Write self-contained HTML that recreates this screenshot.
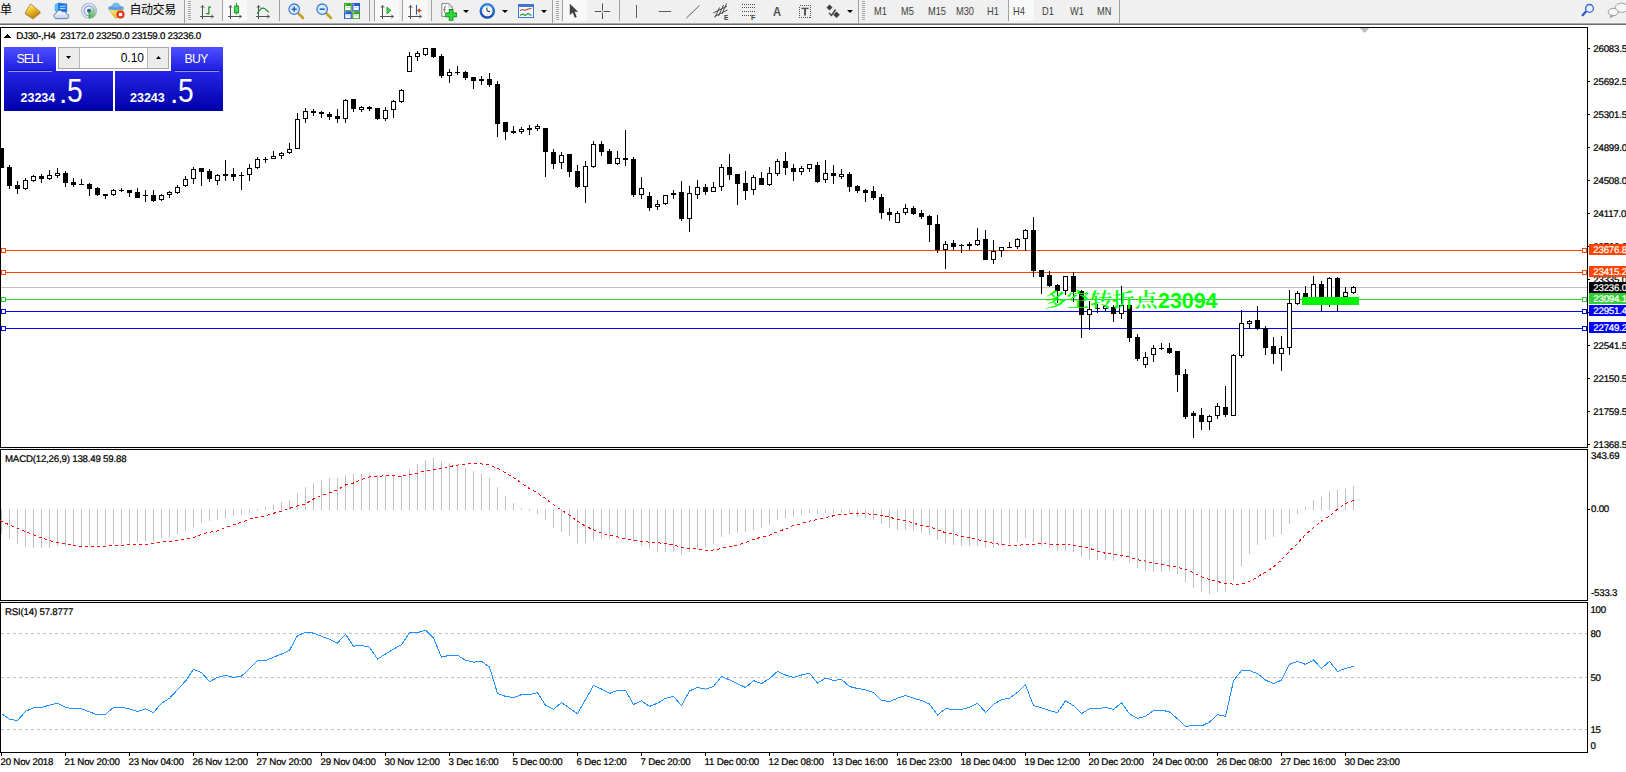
<!DOCTYPE html>
<html><head><meta charset="utf-8"><title>DJ30 H4</title>
<style>
html,body{margin:0;padding:0;background:#fff;}
body{width:1626px;height:772px;overflow:hidden;position:relative;font-family:"Liberation Sans","Noto Sans CJK SC",sans-serif;}
#root{position:absolute;left:0;top:0;width:1626px;height:772px;overflow:hidden;}
#tb{position:absolute;left:0;top:0;width:1626px;height:25px;background:#f0f0f0;}
#tb .l1{position:absolute;left:0;top:22px;width:1626px;height:1px;background:#f2f2f2;}
#tb .l2{position:absolute;left:0;top:23px;width:1626px;height:1px;background:#a8a8a8;}
#tb .l3{position:absolute;left:0;top:24px;width:1626px;height:1px;background:#6c6c6c;}
#tb .sep{position:absolute;top:0;width:1px;height:21px;background:#a0a0a0;}
#tb .grip{position:absolute;top:1px;width:3px;height:19px;background:repeating-linear-gradient(to bottom,#a8a8a8 0,#a8a8a8 1px,#f0f0f0 1px,#f0f0f0 2px);}
#tb .act{position:absolute;top:0;height:21px;background:#f8f8f8;}
#tb .tf{position:absolute;top:5.6px;font-size:10.3px;color:#404040;line-height:12px;white-space:nowrap;transform:scaleX(0.9);transform-origin:0 0;}
#tb .cn{position:absolute;font-size:12px;color:#000;line-height:14px;white-space:nowrap;}
#tb svg{position:absolute;overflow:visible;}
#tp{position:absolute;left:4px;top:47px;width:219px;height:64px;}
#tp .b{position:absolute;background:linear-gradient(to bottom,#5050ff 0%,#1c1ce0 100%);color:#fff;}
#tp .p{position:absolute;background:linear-gradient(to bottom,#2424e6 0%,#0000a8 100%);color:#fff;}
#tp .bt{position:absolute;top:5px;font-size:12.2px;line-height:14px;white-space:nowrap;}
#tp .ul{position:absolute;top:23.3px;height:1.5px;background:linear-gradient(to bottom,#1414a8 0,#1414a8 45%,#9090ff 55%,#9090ff 100%);}
#tp .s{position:absolute;top:44.5px;font-size:12.5px;font-weight:bold;line-height:12px;top:20.5px;}
#tp .d{position:absolute;font-size:30px;line-height:30px;top:6.5px;}
#tp .g{position:absolute;font-size:33.5px;line-height:32px;top:3.6px;transform:scaleX(0.84);transform-origin:0 0;}
#tp .lot{position:absolute;left:54px;top:0px;width:110.5px;height:21.5px;background:#fff;border:1px solid #a8a8a8;box-sizing:border-box;box-shadow:0 0 0 1.5px #fff;}
#tp .sb{position:absolute;top:0;width:19.5px;height:19.5px;background:#ececec;}
#tp .sb:first-child{border-right:1px solid #b8b8b8;}
#tp .sb:last-child{border-left:1px solid #b8b8b8;}
#tp .val{position:absolute;right:23.5px;top:2.7px;font-size:12px;line-height:14px;color:#000;}

</style></head><body><div id="root">
<svg width="1626" height="772" viewBox="0 0 1626 772" shape-rendering="crispEdges" style="position:absolute;left:0;top:0;font-family:'Liberation Sans',sans-serif" text-rendering="geometricPrecision"><rect x="0" y="25" width="1626" height="747" fill="#fff"/>
<rect x="0" y="27" width="1588" height="1" fill="#000"/>
<rect x="0" y="27" width="1" height="726" fill="#000"/>
<rect x="1587" y="27" width="1" height="726" fill="#000"/>
<rect x="0" y="447" width="1588" height="1" fill="#000"/>
<rect x="0" y="448" width="1588" height="1" fill="#f0f0f0"/>
<rect x="0" y="449" width="1588" height="1" fill="#000"/>
<rect x="0" y="600" width="1588" height="1" fill="#000"/>
<rect x="0" y="601" width="1588" height="1" fill="#f0f0f0"/>
<rect x="0" y="602" width="1588" height="1" fill="#000"/>
<rect x="0" y="752" width="1588" height="1" fill="#000"/>
<polygon points="1359,28 1369,28 1364,33" fill="#c0c0c0"/>
<rect x="1" y="287" width="1586" height="1" fill="#c0c0c0"/>
<rect x="1" y="250" width="1586" height="1" fill="#ff4500"/>
<rect x="1" y="272" width="1586" height="1" fill="#ff4500"/>
<rect x="1" y="299" width="1586" height="1" fill="#32cd32"/>
<rect x="1" y="311" width="1586" height="1" fill="#0000ff"/>
<rect x="1" y="328" width="1586" height="1" fill="#0000ff"/>
<g><rect x="1" y="148" width="1" height="20" fill="#000"/><rect x="-1" y="148" width="5" height="20" fill="#000"/><rect x="9" y="165" width="1" height="24" fill="#000"/><rect x="7" y="167" width="5" height="19" fill="#000"/><rect x="17" y="181" width="1" height="13" fill="#000"/><rect x="15" y="185" width="5" height="4" fill="#000"/><rect x="25" y="178" width="1" height="12" fill="#000"/><rect x="23" y="180" width="5" height="9" fill="#000"/><rect x="24" y="181" width="3" height="7" fill="#fff"/><rect x="33" y="175" width="1" height="7" fill="#000"/><rect x="31" y="176" width="5" height="5" fill="#000"/><rect x="32" y="177" width="3" height="3" fill="#fff"/><rect x="41" y="174" width="1" height="9" fill="#000"/><rect x="39" y="176" width="5" height="3" fill="#000"/><rect x="49" y="170" width="1" height="10" fill="#000"/><rect x="47" y="175" width="5" height="4" fill="#000"/><rect x="48" y="176" width="3" height="2" fill="#fff"/><rect x="57" y="168" width="1" height="10" fill="#000"/><rect x="55" y="173" width="5" height="3" fill="#000"/><rect x="56" y="174" width="3" height="1" fill="#fff"/><rect x="65" y="171" width="1" height="16" fill="#000"/><rect x="63" y="173" width="5" height="10" fill="#000"/><rect x="73" y="178" width="1" height="9" fill="#000"/><rect x="71" y="182" width="5" height="3" fill="#000"/><rect x="81" y="179" width="1" height="5" fill="#000"/><rect x="79" y="184" width="5" height="1" fill="#000"/><rect x="89" y="183" width="1" height="13" fill="#000"/><rect x="87" y="184" width="5" height="5" fill="#000"/><rect x="97" y="187" width="1" height="9" fill="#000"/><rect x="95" y="188" width="5" height="7" fill="#000"/><rect x="105" y="194" width="1" height="5" fill="#000"/><rect x="103" y="194" width="5" height="2" fill="#000"/><rect x="113" y="189" width="1" height="7" fill="#000"/><rect x="111" y="190" width="5" height="5" fill="#000"/><rect x="112" y="191" width="3" height="3" fill="#fff"/><rect x="121" y="188" width="1" height="4" fill="#000"/><rect x="119" y="190" width="5" height="1" fill="#000"/><rect x="129" y="190" width="1" height="7" fill="#000"/><rect x="127" y="190" width="5" height="3" fill="#000"/><rect x="137" y="188" width="1" height="10" fill="#000"/><rect x="135" y="192" width="5" height="6" fill="#000"/><rect x="145" y="190" width="1" height="12" fill="#000"/><rect x="143" y="195" width="5" height="1" fill="#000"/><rect x="153" y="190" width="1" height="12" fill="#000"/><rect x="151" y="195" width="5" height="6" fill="#000"/><rect x="161" y="194" width="1" height="7" fill="#000"/><rect x="159" y="195" width="5" height="5" fill="#000"/><rect x="160" y="196" width="3" height="3" fill="#fff"/><rect x="169" y="191" width="1" height="7" fill="#000"/><rect x="167" y="192" width="5" height="3" fill="#000"/><rect x="168" y="193" width="3" height="1" fill="#fff"/><rect x="177" y="185" width="1" height="9" fill="#000"/><rect x="175" y="187" width="5" height="6" fill="#000"/><rect x="176" y="188" width="3" height="4" fill="#fff"/><rect x="185" y="176" width="1" height="11" fill="#000"/><rect x="183" y="179" width="5" height="7" fill="#000"/><rect x="184" y="180" width="3" height="5" fill="#fff"/><rect x="193" y="167" width="1" height="17" fill="#000"/><rect x="191" y="169" width="5" height="10" fill="#000"/><rect x="192" y="170" width="3" height="8" fill="#fff"/><rect x="201" y="168" width="1" height="18" fill="#000"/><rect x="199" y="168" width="5" height="4" fill="#000"/><rect x="209" y="169" width="1" height="13" fill="#000"/><rect x="207" y="171" width="5" height="8" fill="#000"/><rect x="217" y="174" width="1" height="11" fill="#000"/><rect x="215" y="175" width="5" height="6" fill="#000"/><rect x="216" y="176" width="3" height="4" fill="#fff"/><rect x="225" y="160" width="1" height="21" fill="#000"/><rect x="223" y="174" width="5" height="2" fill="#000"/><rect x="233" y="168" width="1" height="13" fill="#000"/><rect x="231" y="174" width="5" height="3" fill="#000"/><rect x="241" y="172" width="1" height="18" fill="#000"/><rect x="239" y="175" width="5" height="1" fill="#000"/><rect x="249" y="164" width="1" height="17" fill="#000"/><rect x="247" y="168" width="5" height="7" fill="#000"/><rect x="248" y="169" width="3" height="5" fill="#fff"/><rect x="257" y="157" width="1" height="12" fill="#000"/><rect x="255" y="159" width="5" height="9" fill="#000"/><rect x="256" y="160" width="3" height="7" fill="#fff"/><rect x="265" y="157" width="1" height="6" fill="#000"/><rect x="263" y="159" width="5" height="1" fill="#000"/><rect x="273" y="151" width="1" height="8" fill="#000"/><rect x="271" y="156" width="5" height="3" fill="#000"/><rect x="272" y="157" width="3" height="1" fill="#fff"/><rect x="281" y="152" width="1" height="7" fill="#000"/><rect x="279" y="153" width="5" height="3" fill="#000"/><rect x="280" y="154" width="3" height="1" fill="#fff"/><rect x="289" y="143" width="1" height="11" fill="#000"/><rect x="287" y="149" width="5" height="4" fill="#000"/><rect x="288" y="150" width="3" height="2" fill="#fff"/><rect x="297" y="113" width="1" height="36" fill="#000"/><rect x="295" y="119" width="5" height="30" fill="#000"/><rect x="296" y="120" width="3" height="28" fill="#fff"/><rect x="305" y="108" width="1" height="15" fill="#000"/><rect x="303" y="111" width="5" height="8" fill="#000"/><rect x="304" y="112" width="3" height="6" fill="#fff"/><rect x="313" y="109" width="1" height="7" fill="#000"/><rect x="311" y="111" width="5" height="2" fill="#000"/><rect x="321" y="111" width="1" height="7" fill="#000"/><rect x="319" y="112" width="5" height="2" fill="#000"/><rect x="329" y="112" width="1" height="8" fill="#000"/><rect x="327" y="114" width="5" height="3" fill="#000"/><rect x="337" y="109" width="1" height="14" fill="#000"/><rect x="335" y="116" width="5" height="3" fill="#000"/><rect x="345" y="99" width="1" height="24" fill="#000"/><rect x="343" y="100" width="5" height="19" fill="#000"/><rect x="344" y="101" width="3" height="17" fill="#fff"/><rect x="353" y="99" width="1" height="13" fill="#000"/><rect x="351" y="99" width="5" height="10" fill="#000"/><rect x="361" y="106" width="1" height="6" fill="#000"/><rect x="359" y="107" width="5" height="3" fill="#000"/><rect x="360" y="108" width="3" height="1" fill="#fff"/><rect x="369" y="106" width="1" height="5" fill="#000"/><rect x="367" y="107" width="5" height="2" fill="#000"/><rect x="377" y="108" width="1" height="12" fill="#000"/><rect x="375" y="108" width="5" height="11" fill="#000"/><rect x="385" y="107" width="1" height="14" fill="#000"/><rect x="383" y="110" width="5" height="9" fill="#000"/><rect x="384" y="111" width="3" height="7" fill="#fff"/><rect x="393" y="100" width="1" height="18" fill="#000"/><rect x="391" y="101" width="5" height="9" fill="#000"/><rect x="392" y="102" width="3" height="7" fill="#fff"/><rect x="401" y="89" width="1" height="14" fill="#000"/><rect x="399" y="90" width="5" height="12" fill="#000"/><rect x="400" y="91" width="3" height="10" fill="#fff"/><rect x="409" y="52" width="1" height="20" fill="#000"/><rect x="407" y="56" width="5" height="16" fill="#000"/><rect x="408" y="57" width="3" height="14" fill="#fff"/><rect x="417" y="51" width="1" height="10" fill="#000"/><rect x="415" y="53" width="5" height="4" fill="#000"/><rect x="416" y="54" width="3" height="2" fill="#fff"/><rect x="425" y="48" width="1" height="8" fill="#000"/><rect x="423" y="48" width="5" height="7" fill="#000"/><rect x="424" y="49" width="3" height="5" fill="#fff"/><rect x="433" y="48" width="1" height="10" fill="#000"/><rect x="431" y="48" width="5" height="9" fill="#000"/><rect x="441" y="54" width="1" height="24" fill="#000"/><rect x="439" y="56" width="5" height="20" fill="#000"/><rect x="449" y="69" width="1" height="14" fill="#000"/><rect x="447" y="72" width="5" height="4" fill="#000"/><rect x="448" y="73" width="3" height="2" fill="#fff"/><rect x="457" y="66" width="1" height="9" fill="#000"/><rect x="455" y="72" width="5" height="1" fill="#000"/><rect x="465" y="71" width="1" height="9" fill="#000"/><rect x="463" y="72" width="5" height="6" fill="#000"/><rect x="473" y="77" width="1" height="12" fill="#000"/><rect x="471" y="77" width="5" height="4" fill="#000"/><rect x="481" y="76" width="1" height="9" fill="#000"/><rect x="479" y="79" width="5" height="2" fill="#000"/><rect x="489" y="73" width="1" height="14" fill="#000"/><rect x="487" y="79" width="5" height="6" fill="#000"/><rect x="497" y="81" width="1" height="56" fill="#000"/><rect x="495" y="84" width="5" height="40" fill="#000"/><rect x="505" y="122" width="1" height="18" fill="#000"/><rect x="503" y="122" width="5" height="10" fill="#000"/><rect x="513" y="126" width="1" height="8" fill="#000"/><rect x="511" y="131" width="5" height="2" fill="#000"/><rect x="521" y="127" width="1" height="7" fill="#000"/><rect x="519" y="129" width="5" height="3" fill="#000"/><rect x="520" y="130" width="3" height="1" fill="#fff"/><rect x="529" y="125" width="1" height="10" fill="#000"/><rect x="527" y="128" width="5" height="2" fill="#000"/><rect x="537" y="124" width="1" height="7" fill="#000"/><rect x="535" y="126" width="5" height="3" fill="#000"/><rect x="536" y="127" width="3" height="1" fill="#fff"/><rect x="545" y="128" width="1" height="49" fill="#000"/><rect x="543" y="128" width="5" height="24" fill="#000"/><rect x="553" y="149" width="1" height="20" fill="#000"/><rect x="551" y="152" width="5" height="12" fill="#000"/><rect x="561" y="152" width="1" height="17" fill="#000"/><rect x="559" y="155" width="5" height="8" fill="#000"/><rect x="560" y="156" width="3" height="6" fill="#fff"/><rect x="569" y="154" width="1" height="23" fill="#000"/><rect x="567" y="154" width="5" height="18" fill="#000"/><rect x="577" y="165" width="1" height="23" fill="#000"/><rect x="575" y="171" width="5" height="16" fill="#000"/><rect x="585" y="161" width="1" height="42" fill="#000"/><rect x="583" y="166" width="5" height="21" fill="#000"/><rect x="584" y="167" width="3" height="19" fill="#fff"/><rect x="593" y="141" width="1" height="27" fill="#000"/><rect x="591" y="144" width="5" height="23" fill="#000"/><rect x="592" y="145" width="3" height="21" fill="#fff"/><rect x="601" y="141" width="1" height="15" fill="#000"/><rect x="599" y="144" width="5" height="8" fill="#000"/><rect x="609" y="149" width="1" height="15" fill="#000"/><rect x="607" y="151" width="5" height="13" fill="#000"/><rect x="617" y="151" width="1" height="14" fill="#000"/><rect x="615" y="158" width="5" height="6" fill="#000"/><rect x="616" y="159" width="3" height="4" fill="#fff"/><rect x="625" y="130" width="1" height="36" fill="#000"/><rect x="623" y="158" width="5" height="2" fill="#000"/><rect x="633" y="157" width="1" height="40" fill="#000"/><rect x="631" y="159" width="5" height="36" fill="#000"/><rect x="641" y="177" width="1" height="22" fill="#000"/><rect x="639" y="188" width="5" height="7" fill="#000"/><rect x="640" y="189" width="3" height="5" fill="#fff"/><rect x="649" y="192" width="1" height="19" fill="#000"/><rect x="647" y="196" width="5" height="12" fill="#000"/><rect x="657" y="200" width="1" height="10" fill="#000"/><rect x="655" y="204" width="5" height="3" fill="#000"/><rect x="656" y="205" width="3" height="1" fill="#fff"/><rect x="665" y="195" width="1" height="10" fill="#000"/><rect x="663" y="195" width="5" height="9" fill="#000"/><rect x="664" y="196" width="3" height="7" fill="#fff"/><rect x="673" y="190" width="1" height="9" fill="#000"/><rect x="671" y="193" width="5" height="2" fill="#000"/><rect x="681" y="181" width="1" height="40" fill="#000"/><rect x="679" y="192" width="5" height="27" fill="#000"/><rect x="689" y="186" width="1" height="46" fill="#000"/><rect x="687" y="193" width="5" height="26" fill="#000"/><rect x="688" y="194" width="3" height="24" fill="#fff"/><rect x="697" y="180" width="1" height="19" fill="#000"/><rect x="695" y="187" width="5" height="8" fill="#000"/><rect x="696" y="188" width="3" height="6" fill="#fff"/><rect x="705" y="184" width="1" height="11" fill="#000"/><rect x="703" y="187" width="5" height="5" fill="#000"/><rect x="713" y="182" width="1" height="10" fill="#000"/><rect x="711" y="187" width="5" height="5" fill="#000"/><rect x="712" y="188" width="3" height="3" fill="#fff"/><rect x="721" y="164" width="1" height="27" fill="#000"/><rect x="719" y="167" width="5" height="20" fill="#000"/><rect x="720" y="168" width="3" height="18" fill="#fff"/><rect x="729" y="154" width="1" height="26" fill="#000"/><rect x="727" y="167" width="5" height="8" fill="#000"/><rect x="737" y="174" width="1" height="31" fill="#000"/><rect x="735" y="174" width="5" height="10" fill="#000"/><rect x="745" y="171" width="1" height="29" fill="#000"/><rect x="743" y="183" width="5" height="8" fill="#000"/><rect x="753" y="175" width="1" height="20" fill="#000"/><rect x="751" y="177" width="5" height="13" fill="#000"/><rect x="752" y="178" width="3" height="11" fill="#fff"/><rect x="761" y="172" width="1" height="13" fill="#000"/><rect x="759" y="178" width="5" height="7" fill="#000"/><rect x="769" y="167" width="1" height="19" fill="#000"/><rect x="767" y="173" width="5" height="12" fill="#000"/><rect x="768" y="174" width="3" height="10" fill="#fff"/><rect x="777" y="159" width="1" height="17" fill="#000"/><rect x="775" y="161" width="5" height="13" fill="#000"/><rect x="776" y="162" width="3" height="11" fill="#fff"/><rect x="785" y="152" width="1" height="23" fill="#000"/><rect x="783" y="161" width="5" height="7" fill="#000"/><rect x="793" y="164" width="1" height="17" fill="#000"/><rect x="791" y="168" width="5" height="4" fill="#000"/><rect x="801" y="166" width="1" height="9" fill="#000"/><rect x="799" y="168" width="5" height="4" fill="#000"/><rect x="800" y="169" width="3" height="2" fill="#fff"/><rect x="809" y="164" width="1" height="8" fill="#000"/><rect x="807" y="164" width="5" height="5" fill="#000"/><rect x="808" y="165" width="3" height="3" fill="#fff"/><rect x="817" y="162" width="1" height="21" fill="#000"/><rect x="815" y="165" width="5" height="17" fill="#000"/><rect x="825" y="160" width="1" height="23" fill="#000"/><rect x="823" y="173" width="5" height="7" fill="#000"/><rect x="824" y="174" width="3" height="5" fill="#fff"/><rect x="833" y="165" width="1" height="19" fill="#000"/><rect x="831" y="173" width="5" height="3" fill="#000"/><rect x="841" y="169" width="1" height="10" fill="#000"/><rect x="839" y="174" width="5" height="3" fill="#000"/><rect x="840" y="175" width="3" height="1" fill="#fff"/><rect x="849" y="172" width="1" height="20" fill="#000"/><rect x="847" y="174" width="5" height="13" fill="#000"/><rect x="857" y="185" width="1" height="8" fill="#000"/><rect x="855" y="186" width="5" height="5" fill="#000"/><rect x="865" y="189" width="1" height="13" fill="#000"/><rect x="863" y="190" width="5" height="3" fill="#000"/><rect x="873" y="186" width="1" height="14" fill="#000"/><rect x="871" y="191" width="5" height="7" fill="#000"/><rect x="881" y="194" width="1" height="25" fill="#000"/><rect x="879" y="197" width="5" height="16" fill="#000"/><rect x="889" y="208" width="1" height="13" fill="#000"/><rect x="887" y="212" width="5" height="3" fill="#000"/><rect x="897" y="211" width="1" height="12" fill="#000"/><rect x="895" y="213" width="5" height="10" fill="#000"/><rect x="896" y="214" width="3" height="8" fill="#fff"/><rect x="905" y="204" width="1" height="11" fill="#000"/><rect x="903" y="208" width="5" height="5" fill="#000"/><rect x="904" y="209" width="3" height="3" fill="#fff"/><rect x="913" y="206" width="1" height="9" fill="#000"/><rect x="911" y="208" width="5" height="6" fill="#000"/><rect x="921" y="210" width="1" height="9" fill="#000"/><rect x="919" y="213" width="5" height="4" fill="#000"/><rect x="929" y="215" width="1" height="27" fill="#000"/><rect x="927" y="216" width="5" height="9" fill="#000"/><rect x="937" y="215" width="1" height="38" fill="#000"/><rect x="935" y="224" width="5" height="26" fill="#000"/><rect x="945" y="241" width="1" height="28" fill="#000"/><rect x="943" y="244" width="5" height="6" fill="#000"/><rect x="944" y="245" width="3" height="4" fill="#fff"/><rect x="953" y="240" width="1" height="10" fill="#000"/><rect x="951" y="243" width="5" height="4" fill="#000"/><rect x="961" y="244" width="1" height="9" fill="#000"/><rect x="959" y="245" width="5" height="1" fill="#000"/><rect x="969" y="242" width="1" height="8" fill="#000"/><rect x="967" y="244" width="5" height="2" fill="#000"/><rect x="977" y="228" width="1" height="18" fill="#000"/><rect x="975" y="240" width="5" height="5" fill="#000"/><rect x="976" y="241" width="3" height="3" fill="#fff"/><rect x="985" y="230" width="1" height="30" fill="#000"/><rect x="983" y="239" width="5" height="21" fill="#000"/><rect x="993" y="240" width="1" height="24" fill="#000"/><rect x="991" y="251" width="5" height="9" fill="#000"/><rect x="992" y="252" width="3" height="7" fill="#fff"/><rect x="1001" y="247" width="1" height="10" fill="#000"/><rect x="999" y="247" width="5" height="4" fill="#000"/><rect x="1000" y="248" width="3" height="2" fill="#fff"/><rect x="1009" y="242" width="1" height="6" fill="#000"/><rect x="1007" y="247" width="5" height="1" fill="#000"/><rect x="1017" y="238" width="1" height="11" fill="#000"/><rect x="1015" y="239" width="5" height="8" fill="#000"/><rect x="1016" y="240" width="3" height="6" fill="#fff"/><rect x="1025" y="229" width="1" height="22" fill="#000"/><rect x="1023" y="230" width="5" height="9" fill="#000"/><rect x="1024" y="231" width="3" height="7" fill="#fff"/><rect x="1033" y="217" width="1" height="60" fill="#000"/><rect x="1031" y="230" width="5" height="41" fill="#000"/><rect x="1041" y="270" width="1" height="24" fill="#000"/><rect x="1039" y="270" width="5" height="7" fill="#000"/><rect x="1049" y="271" width="1" height="16" fill="#000"/><rect x="1047" y="275" width="5" height="11" fill="#000"/><rect x="1057" y="284" width="1" height="19" fill="#000"/><rect x="1055" y="285" width="5" height="6" fill="#000"/><rect x="1065" y="276" width="1" height="19" fill="#000"/><rect x="1063" y="276" width="5" height="15" fill="#000"/><rect x="1064" y="277" width="3" height="13" fill="#fff"/><rect x="1073" y="272" width="1" height="30" fill="#000"/><rect x="1071" y="276" width="5" height="16" fill="#000"/><rect x="1081" y="290" width="1" height="48" fill="#000"/><rect x="1079" y="291" width="5" height="24" fill="#000"/><rect x="1089" y="301" width="1" height="29" fill="#000"/><rect x="1087" y="309" width="5" height="6" fill="#000"/><rect x="1088" y="310" width="3" height="4" fill="#fff"/><rect x="1097" y="304" width="1" height="9" fill="#000"/><rect x="1095" y="308" width="5" height="1" fill="#000"/><rect x="1105" y="305" width="1" height="6" fill="#000"/><rect x="1103" y="306" width="5" height="3" fill="#000"/><rect x="1104" y="307" width="3" height="1" fill="#fff"/><rect x="1113" y="305" width="1" height="17" fill="#000"/><rect x="1111" y="307" width="5" height="7" fill="#000"/><rect x="1121" y="286" width="1" height="33" fill="#000"/><rect x="1119" y="305" width="5" height="9" fill="#000"/><rect x="1120" y="306" width="3" height="7" fill="#fff"/><rect x="1129" y="304" width="1" height="38" fill="#000"/><rect x="1127" y="305" width="5" height="33" fill="#000"/><rect x="1137" y="334" width="1" height="27" fill="#000"/><rect x="1135" y="337" width="5" height="22" fill="#000"/><rect x="1145" y="352" width="1" height="16" fill="#000"/><rect x="1143" y="357" width="5" height="8" fill="#000"/><rect x="1144" y="358" width="3" height="6" fill="#fff"/><rect x="1153" y="345" width="1" height="17" fill="#000"/><rect x="1151" y="348" width="5" height="7" fill="#000"/><rect x="1152" y="349" width="3" height="5" fill="#fff"/><rect x="1161" y="343" width="1" height="7" fill="#000"/><rect x="1159" y="348" width="5" height="1" fill="#000"/><rect x="1169" y="343" width="1" height="11" fill="#000"/><rect x="1167" y="348" width="5" height="5" fill="#000"/><rect x="1177" y="351" width="1" height="41" fill="#000"/><rect x="1175" y="351" width="5" height="24" fill="#000"/><rect x="1185" y="369" width="1" height="50" fill="#000"/><rect x="1183" y="374" width="5" height="43" fill="#000"/><rect x="1193" y="411" width="1" height="27" fill="#000"/><rect x="1191" y="413" width="5" height="3" fill="#000"/><rect x="1201" y="408" width="1" height="22" fill="#000"/><rect x="1199" y="415" width="5" height="7" fill="#000"/><rect x="1209" y="415" width="1" height="15" fill="#000"/><rect x="1207" y="416" width="5" height="6" fill="#000"/><rect x="1208" y="417" width="3" height="4" fill="#fff"/><rect x="1217" y="403" width="1" height="16" fill="#000"/><rect x="1215" y="406" width="5" height="10" fill="#000"/><rect x="1216" y="407" width="3" height="8" fill="#fff"/><rect x="1225" y="386" width="1" height="31" fill="#000"/><rect x="1223" y="407" width="5" height="8" fill="#000"/><rect x="1233" y="354" width="1" height="62" fill="#000"/><rect x="1231" y="355" width="5" height="61" fill="#000"/><rect x="1232" y="356" width="3" height="59" fill="#fff"/><rect x="1241" y="310" width="1" height="48" fill="#000"/><rect x="1239" y="323" width="5" height="33" fill="#000"/><rect x="1240" y="324" width="3" height="31" fill="#fff"/><rect x="1249" y="320" width="1" height="9" fill="#000"/><rect x="1247" y="321" width="5" height="3" fill="#000"/><rect x="1248" y="322" width="3" height="1" fill="#fff"/><rect x="1257" y="306" width="1" height="24" fill="#000"/><rect x="1255" y="320" width="5" height="9" fill="#000"/><rect x="1265" y="326" width="1" height="29" fill="#000"/><rect x="1263" y="328" width="5" height="20" fill="#000"/><rect x="1273" y="337" width="1" height="27" fill="#000"/><rect x="1271" y="346" width="5" height="8" fill="#000"/><rect x="1281" y="336" width="1" height="35" fill="#000"/><rect x="1279" y="348" width="5" height="6" fill="#000"/><rect x="1280" y="349" width="3" height="4" fill="#fff"/><rect x="1289" y="290" width="1" height="65" fill="#000"/><rect x="1287" y="303" width="5" height="45" fill="#000"/><rect x="1288" y="304" width="3" height="43" fill="#fff"/><rect x="1297" y="291" width="1" height="14" fill="#000"/><rect x="1295" y="293" width="5" height="11" fill="#000"/><rect x="1296" y="294" width="3" height="9" fill="#fff"/><rect x="1305" y="286" width="1" height="15" fill="#000"/><rect x="1303" y="293" width="5" height="8" fill="#000"/><rect x="1313" y="276" width="1" height="25" fill="#000"/><rect x="1311" y="284" width="5" height="17" fill="#000"/><rect x="1312" y="285" width="3" height="15" fill="#fff"/><rect x="1321" y="281" width="1" height="30" fill="#000"/><rect x="1319" y="284" width="5" height="17" fill="#000"/><rect x="1329" y="277" width="1" height="30" fill="#000"/><rect x="1327" y="278" width="5" height="23" fill="#000"/><rect x="1328" y="279" width="3" height="21" fill="#fff"/><rect x="1337" y="277" width="1" height="34" fill="#000"/><rect x="1335" y="278" width="5" height="23" fill="#000"/><rect x="1345" y="287" width="1" height="10" fill="#000"/><rect x="1343" y="292" width="5" height="5" fill="#000"/><rect x="1344" y="293" width="3" height="3" fill="#fff"/><rect x="1353" y="286" width="1" height="8" fill="#000"/><rect x="1351" y="287" width="5" height="6" fill="#000"/><rect x="1352" y="288" width="3" height="4" fill="#fff"/></g>
<rect x="1302" y="297" width="57" height="8" fill="#00f600"/>
<rect x="1.5" y="248.5" width="4" height="4" fill="#fff" stroke="#ff4500" stroke-width="1"/>
<rect x="1582.5" y="248.5" width="4" height="4" fill="#fff" stroke="#ff4500" stroke-width="1"/>
<rect x="1.5" y="270.5" width="4" height="4" fill="#fff" stroke="#ff4500" stroke-width="1"/>
<rect x="1582.5" y="270.5" width="4" height="4" fill="#fff" stroke="#ff4500" stroke-width="1"/>
<rect x="1.5" y="297.5" width="4" height="4" fill="#fff" stroke="#32cd32" stroke-width="1"/>
<rect x="1582.5" y="297.5" width="4" height="4" fill="#fff" stroke="#32cd32" stroke-width="1"/>
<rect x="1.5" y="309.5" width="4" height="4" fill="#fff" stroke="#0000ff" stroke-width="1"/>
<rect x="1582.5" y="309.5" width="4" height="4" fill="#fff" stroke="#0000ff" stroke-width="1"/>
<rect x="1.5" y="326.5" width="4" height="4" fill="#fff" stroke="#0000ff" stroke-width="1"/>
<rect x="1582.5" y="326.5" width="4" height="4" fill="#fff" stroke="#0000ff" stroke-width="1"/>
<text x="1044" y="307" font-size="20" font-weight="600" fill="#00ff00" style="font-family:'Liberation Serif','Noto Serif CJK SC',serif" textLength="113.5" lengthAdjust="spacingAndGlyphs">多空转折点</text>
<text x="1158" y="308" font-size="21.4" font-weight="bold" fill="#00ff00" style="font-family:'Liberation Sans',sans-serif">23094</text>
<rect x="1588" y="48" width="2" height="1" fill="#000"/>
<text x="1593.3" y="51.5" font-size="9.7" letter-spacing="-0.2" fill="#000" stroke="#000" stroke-width="0.22">26083.5</text>
<rect x="1588" y="81" width="2" height="1" fill="#000"/>
<text x="1593.3" y="84.5" font-size="9.7" letter-spacing="-0.2" fill="#000" stroke="#000" stroke-width="0.22">25692.5</text>
<rect x="1588" y="114" width="2" height="1" fill="#000"/>
<text x="1593.3" y="117.5" font-size="9.7" letter-spacing="-0.2" fill="#000" stroke="#000" stroke-width="0.22">25301.5</text>
<rect x="1588" y="147" width="2" height="1" fill="#000"/>
<text x="1593.3" y="150.5" font-size="9.7" letter-spacing="-0.2" fill="#000" stroke="#000" stroke-width="0.22">24899.0</text>
<rect x="1588" y="180" width="2" height="1" fill="#000"/>
<text x="1593.3" y="183.5" font-size="9.7" letter-spacing="-0.2" fill="#000" stroke="#000" stroke-width="0.22">24508.0</text>
<rect x="1588" y="213" width="2" height="1" fill="#000"/>
<text x="1593.3" y="216.5" font-size="9.7" letter-spacing="-0.2" fill="#000" stroke="#000" stroke-width="0.22">24117.0</text>
<rect x="1588" y="246" width="2" height="1" fill="#000"/>
<text x="1593.3" y="249.5" font-size="9.7" letter-spacing="-0.2" fill="#000" stroke="#000" stroke-width="0.22">23726.0</text>
<rect x="1588" y="279" width="2" height="1" fill="#000"/>
<text x="1593.3" y="282.5" font-size="9.7" letter-spacing="-0.2" fill="#000" stroke="#000" stroke-width="0.22">23335.0</text>
<rect x="1588" y="312" width="2" height="1" fill="#000"/>
<text x="1593.3" y="315.5" font-size="9.7" letter-spacing="-0.2" fill="#000" stroke="#000" stroke-width="0.22">22944.0</text>
<rect x="1588" y="345" width="2" height="1" fill="#000"/>
<text x="1593.3" y="348.5" font-size="9.7" letter-spacing="-0.2" fill="#000" stroke="#000" stroke-width="0.22">22541.5</text>
<rect x="1588" y="378" width="2" height="1" fill="#000"/>
<text x="1593.3" y="381.5" font-size="9.7" letter-spacing="-0.2" fill="#000" stroke="#000" stroke-width="0.22">22150.5</text>
<rect x="1588" y="411" width="2" height="1" fill="#000"/>
<text x="1593.3" y="414.5" font-size="9.7" letter-spacing="-0.2" fill="#000" stroke="#000" stroke-width="0.22">21759.5</text>
<rect x="1588" y="444" width="2" height="1" fill="#000"/>
<text x="1593.3" y="447.5" font-size="9.7" letter-spacing="-0.2" fill="#000" stroke="#000" stroke-width="0.22">21368.5</text>
<rect x="1589" y="244" width="40" height="11" fill="#ff4500"/><text x="1593.3" y="253.2" font-size="9.7" letter-spacing="-0.2" fill="#fff" stroke="#fff" stroke-width="0.22">23676.8</text>
<rect x="1589" y="266" width="40" height="11" fill="#ff4500"/><text x="1593.3" y="275.2" font-size="9.7" letter-spacing="-0.2" fill="#fff" stroke="#fff" stroke-width="0.22">23415.2</text>
<rect x="1589" y="282" width="40" height="11" fill="#000"/><text x="1593.3" y="291.2" font-size="9.7" letter-spacing="-0.2" fill="#fff" stroke="#fff" stroke-width="0.22">23236.0</text>
<rect x="1589" y="293" width="40" height="11" fill="#32cd32"/><text x="1593.3" y="302.2" font-size="9.7" letter-spacing="-0.2" fill="#fff" stroke="#fff" stroke-width="0.22">23094.1</text>
<rect x="1589" y="305" width="40" height="11" fill="#0000ff"/><text x="1593.3" y="314.2" font-size="9.7" letter-spacing="-0.2" fill="#fff" stroke="#fff" stroke-width="0.22">22951.4</text>
<rect x="1589" y="322" width="40" height="11" fill="#0000ff"/><text x="1593.3" y="331.2" font-size="9.7" letter-spacing="-0.2" fill="#fff" stroke="#fff" stroke-width="0.22">22749.2</text>
<g><rect x="1" y="509" width="1" height="25" fill="#c0c0c0"/><rect x="9" y="509" width="1" height="30" fill="#c0c0c0"/><rect x="17" y="509" width="1" height="35" fill="#c0c0c0"/><rect x="25" y="509" width="1" height="38" fill="#c0c0c0"/><rect x="33" y="509" width="1" height="39" fill="#c0c0c0"/><rect x="41" y="509" width="1" height="39" fill="#c0c0c0"/><rect x="49" y="509" width="1" height="39" fill="#c0c0c0"/><rect x="57" y="509" width="1" height="37" fill="#c0c0c0"/><rect x="65" y="509" width="1" height="37" fill="#c0c0c0"/><rect x="73" y="509" width="1" height="37" fill="#c0c0c0"/><rect x="81" y="509" width="1" height="37" fill="#c0c0c0"/><rect x="89" y="509" width="1" height="37" fill="#c0c0c0"/><rect x="97" y="509" width="1" height="36" fill="#c0c0c0"/><rect x="105" y="509" width="1" height="36" fill="#c0c0c0"/><rect x="113" y="509" width="1" height="35" fill="#c0c0c0"/><rect x="121" y="509" width="1" height="35" fill="#c0c0c0"/><rect x="129" y="509" width="1" height="34" fill="#c0c0c0"/><rect x="137" y="509" width="1" height="33" fill="#c0c0c0"/><rect x="145" y="509" width="1" height="32" fill="#c0c0c0"/><rect x="153" y="509" width="1" height="32" fill="#c0c0c0"/><rect x="161" y="509" width="1" height="29" fill="#c0c0c0"/><rect x="169" y="509" width="1" height="28" fill="#c0c0c0"/><rect x="177" y="509" width="1" height="25" fill="#c0c0c0"/><rect x="185" y="509" width="1" height="22" fill="#c0c0c0"/><rect x="193" y="509" width="1" height="18" fill="#c0c0c0"/><rect x="201" y="509" width="1" height="14" fill="#c0c0c0"/><rect x="209" y="509" width="1" height="12" fill="#c0c0c0"/><rect x="217" y="509" width="1" height="11" fill="#c0c0c0"/><rect x="225" y="509" width="1" height="9" fill="#c0c0c0"/><rect x="233" y="509" width="1" height="7" fill="#c0c0c0"/><rect x="241" y="509" width="1" height="6" fill="#c0c0c0"/><rect x="249" y="509" width="1" height="4" fill="#c0c0c0"/><rect x="257" y="509" width="1" height="2" fill="#c0c0c0"/><rect x="265" y="507" width="1" height="3" fill="#c0c0c0"/><rect x="273" y="505" width="1" height="5" fill="#c0c0c0"/><rect x="281" y="502" width="1" height="8" fill="#c0c0c0"/><rect x="289" y="500" width="1" height="10" fill="#c0c0c0"/><rect x="297" y="493" width="1" height="17" fill="#c0c0c0"/><rect x="305" y="487" width="1" height="23" fill="#c0c0c0"/><rect x="313" y="483" width="1" height="27" fill="#c0c0c0"/><rect x="321" y="480" width="1" height="30" fill="#c0c0c0"/><rect x="329" y="478" width="1" height="32" fill="#c0c0c0"/><rect x="337" y="478" width="1" height="32" fill="#c0c0c0"/><rect x="345" y="475" width="1" height="35" fill="#c0c0c0"/><rect x="353" y="474" width="1" height="36" fill="#c0c0c0"/><rect x="361" y="474" width="1" height="36" fill="#c0c0c0"/><rect x="369" y="474" width="1" height="36" fill="#c0c0c0"/><rect x="377" y="475" width="1" height="35" fill="#c0c0c0"/><rect x="385" y="476" width="1" height="34" fill="#c0c0c0"/><rect x="393" y="476" width="1" height="34" fill="#c0c0c0"/><rect x="401" y="476" width="1" height="34" fill="#c0c0c0"/><rect x="409" y="469" width="1" height="41" fill="#c0c0c0"/><rect x="417" y="464" width="1" height="46" fill="#c0c0c0"/><rect x="425" y="460" width="1" height="50" fill="#c0c0c0"/><rect x="433" y="458" width="1" height="52" fill="#c0c0c0"/><rect x="441" y="461" width="1" height="49" fill="#c0c0c0"/><rect x="449" y="463" width="1" height="47" fill="#c0c0c0"/><rect x="457" y="466" width="1" height="44" fill="#c0c0c0"/><rect x="465" y="468" width="1" height="42" fill="#c0c0c0"/><rect x="473" y="471" width="1" height="39" fill="#c0c0c0"/><rect x="481" y="474" width="1" height="36" fill="#c0c0c0"/><rect x="489" y="478" width="1" height="32" fill="#c0c0c0"/><rect x="497" y="487" width="1" height="23" fill="#c0c0c0"/><rect x="505" y="496" width="1" height="14" fill="#c0c0c0"/><rect x="513" y="503" width="1" height="7" fill="#c0c0c0"/><rect x="521" y="508" width="1" height="2" fill="#c0c0c0"/><rect x="529" y="509" width="1" height="2" fill="#c0c0c0"/><rect x="537" y="509" width="1" height="5" fill="#c0c0c0"/><rect x="545" y="509" width="1" height="11" fill="#c0c0c0"/><rect x="553" y="509" width="1" height="19" fill="#c0c0c0"/><rect x="561" y="509" width="1" height="23" fill="#c0c0c0"/><rect x="569" y="509" width="1" height="27" fill="#c0c0c0"/><rect x="577" y="509" width="1" height="34" fill="#c0c0c0"/><rect x="585" y="509" width="1" height="34" fill="#c0c0c0"/><rect x="593" y="509" width="1" height="32" fill="#c0c0c0"/><rect x="601" y="509" width="1" height="30" fill="#c0c0c0"/><rect x="609" y="509" width="1" height="30" fill="#c0c0c0"/><rect x="617" y="509" width="1" height="29" fill="#c0c0c0"/><rect x="625" y="509" width="1" height="30" fill="#c0c0c0"/><rect x="633" y="509" width="1" height="33" fill="#c0c0c0"/><rect x="641" y="509" width="1" height="37" fill="#c0c0c0"/><rect x="649" y="509" width="1" height="40" fill="#c0c0c0"/><rect x="657" y="509" width="1" height="43" fill="#c0c0c0"/><rect x="665" y="509" width="1" height="43" fill="#c0c0c0"/><rect x="673" y="509" width="1" height="43" fill="#c0c0c0"/><rect x="681" y="509" width="1" height="46" fill="#c0c0c0"/><rect x="689" y="509" width="1" height="43" fill="#c0c0c0"/><rect x="697" y="509" width="1" height="40" fill="#c0c0c0"/><rect x="705" y="509" width="1" height="38" fill="#c0c0c0"/><rect x="713" y="509" width="1" height="35" fill="#c0c0c0"/><rect x="721" y="509" width="1" height="28" fill="#c0c0c0"/><rect x="729" y="509" width="1" height="25" fill="#c0c0c0"/><rect x="737" y="509" width="1" height="24" fill="#c0c0c0"/><rect x="745" y="509" width="1" height="23" fill="#c0c0c0"/><rect x="753" y="509" width="1" height="21" fill="#c0c0c0"/><rect x="761" y="509" width="1" height="19" fill="#c0c0c0"/><rect x="769" y="509" width="1" height="16" fill="#c0c0c0"/><rect x="777" y="509" width="1" height="11" fill="#c0c0c0"/><rect x="785" y="509" width="1" height="9" fill="#c0c0c0"/><rect x="793" y="509" width="1" height="8" fill="#c0c0c0"/><rect x="801" y="509" width="1" height="6" fill="#c0c0c0"/><rect x="809" y="509" width="1" height="4" fill="#c0c0c0"/><rect x="817" y="509" width="1" height="5" fill="#c0c0c0"/><rect x="825" y="509" width="1" height="4" fill="#c0c0c0"/><rect x="833" y="509" width="1" height="4" fill="#c0c0c0"/><rect x="841" y="509" width="1" height="4" fill="#c0c0c0"/><rect x="849" y="509" width="1" height="5" fill="#c0c0c0"/><rect x="857" y="509" width="1" height="8" fill="#c0c0c0"/><rect x="865" y="509" width="1" height="9" fill="#c0c0c0"/><rect x="873" y="509" width="1" height="11" fill="#c0c0c0"/><rect x="881" y="509" width="1" height="15" fill="#c0c0c0"/><rect x="889" y="509" width="1" height="19" fill="#c0c0c0"/><rect x="897" y="509" width="1" height="21" fill="#c0c0c0"/><rect x="905" y="509" width="1" height="21" fill="#c0c0c0"/><rect x="913" y="509" width="1" height="22" fill="#c0c0c0"/><rect x="921" y="509" width="1" height="24" fill="#c0c0c0"/><rect x="929" y="509" width="1" height="26" fill="#c0c0c0"/><rect x="937" y="509" width="1" height="31" fill="#c0c0c0"/><rect x="945" y="509" width="1" height="34" fill="#c0c0c0"/><rect x="953" y="509" width="1" height="36" fill="#c0c0c0"/><rect x="961" y="509" width="1" height="37" fill="#c0c0c0"/><rect x="969" y="509" width="1" height="37" fill="#c0c0c0"/><rect x="977" y="509" width="1" height="37" fill="#c0c0c0"/><rect x="985" y="509" width="1" height="39" fill="#c0c0c0"/><rect x="993" y="509" width="1" height="39" fill="#c0c0c0"/><rect x="1001" y="509" width="1" height="37" fill="#c0c0c0"/><rect x="1009" y="509" width="1" height="35" fill="#c0c0c0"/><rect x="1017" y="509" width="1" height="33" fill="#c0c0c0"/><rect x="1025" y="509" width="1" height="29" fill="#c0c0c0"/><rect x="1033" y="509" width="1" height="33" fill="#c0c0c0"/><rect x="1041" y="509" width="1" height="37" fill="#c0c0c0"/><rect x="1049" y="509" width="1" height="39" fill="#c0c0c0"/><rect x="1057" y="509" width="1" height="42" fill="#c0c0c0"/><rect x="1065" y="509" width="1" height="42" fill="#c0c0c0"/><rect x="1073" y="509" width="1" height="43" fill="#c0c0c0"/><rect x="1081" y="509" width="1" height="48" fill="#c0c0c0"/><rect x="1089" y="509" width="1" height="50" fill="#c0c0c0"/><rect x="1097" y="509" width="1" height="51" fill="#c0c0c0"/><rect x="1105" y="509" width="1" height="51" fill="#c0c0c0"/><rect x="1113" y="509" width="1" height="52" fill="#c0c0c0"/><rect x="1121" y="509" width="1" height="49" fill="#c0c0c0"/><rect x="1129" y="509" width="1" height="54" fill="#c0c0c0"/><rect x="1137" y="509" width="1" height="59" fill="#c0c0c0"/><rect x="1145" y="509" width="1" height="62" fill="#c0c0c0"/><rect x="1153" y="509" width="1" height="63" fill="#c0c0c0"/><rect x="1161" y="509" width="1" height="63" fill="#c0c0c0"/><rect x="1169" y="509" width="1" height="62" fill="#c0c0c0"/><rect x="1177" y="509" width="1" height="65" fill="#c0c0c0"/><rect x="1185" y="509" width="1" height="73" fill="#c0c0c0"/><rect x="1193" y="509" width="1" height="79" fill="#c0c0c0"/><rect x="1201" y="509" width="1" height="83" fill="#c0c0c0"/><rect x="1209" y="509" width="1" height="85" fill="#c0c0c0"/><rect x="1217" y="509" width="1" height="83" fill="#c0c0c0"/><rect x="1225" y="509" width="1" height="83" fill="#c0c0c0"/><rect x="1233" y="509" width="1" height="72" fill="#c0c0c0"/><rect x="1241" y="509" width="1" height="57" fill="#c0c0c0"/><rect x="1249" y="509" width="1" height="45" fill="#c0c0c0"/><rect x="1257" y="509" width="1" height="36" fill="#c0c0c0"/><rect x="1265" y="509" width="1" height="31" fill="#c0c0c0"/><rect x="1273" y="509" width="1" height="28" fill="#c0c0c0"/><rect x="1281" y="509" width="1" height="25" fill="#c0c0c0"/><rect x="1289" y="509" width="1" height="15" fill="#c0c0c0"/><rect x="1297" y="509" width="1" height="5" fill="#c0c0c0"/><rect x="1305" y="507" width="1" height="3" fill="#c0c0c0"/><rect x="1313" y="500" width="1" height="10" fill="#c0c0c0"/><rect x="1321" y="497" width="1" height="13" fill="#c0c0c0"/><rect x="1329" y="491" width="1" height="19" fill="#c0c0c0"/><rect x="1337" y="490" width="1" height="20" fill="#c0c0c0"/><rect x="1345" y="489" width="1" height="21" fill="#c0c0c0"/><rect x="1353" y="486" width="1" height="24" fill="#c0c0c0"/></g>
<polyline points="0.0,520.4 9.3,524.9 17.5,528.1 25.3,531.5 33.5,534.7 41.3,537.9 49.4,540.4 57.3,542.8 65.4,544.1 73.3,545.3 81.2,546.5 98.4,546.5 113.2,545.8 130.4,544.8 147.6,544.1 162.4,542.1 177.1,540.4 193.4,537.7 201.5,534.2 209.3,532.3 217.5,531.0 225.3,527.3 233.5,524.9 241.3,522.4 249.4,519.2 257.3,517.5 265.4,515.8 273.3,513.3 281.4,511.3 289.3,508.4 297.4,505.9 305.3,504.0 313.4,499.0 321.3,495.4 329.4,492.9 337.3,489.9 345.4,485.0 353.3,483.1 361.4,479.4 369.2,476.9 377.4,476.4 385.2,475.7 393.4,475.7 401.5,476.4 409.3,474.4 417.5,473.2 425.3,470.8 433.5,469.5 441.3,468.3 449.4,466.6 457.3,465.1 465.4,464.1 473.3,463.4 481.4,463.9 489.3,465.1 497.4,468.3 505.3,472.7 513.4,477.4 521.3,483.1 529.4,488.7 537.3,492.9 545.4,498.5 553.3,504.7 561.4,510.1 569.2,515.0 577.4,521.2 585.2,526.1 593.4,529.8 601.2,533.0 609.3,535.4 617.2,536.7 625.3,538.9 633.2,540.1 641.3,541.4 649.2,542.1 657.3,542.6 665.2,543.8 673.3,545.0 681.2,547.0 689.3,548.5 697.2,549.0 705.3,550.2 713.2,550.0 721.3,548.5 729.2,546.5 737.3,545.0 745.1,542.8 753.3,539.6 761.1,537.2 769.2,535.2 777.1,531.8 785.2,529.1 793.1,525.6 801.5,523.6 809.3,521.2 817.5,519.5 825.3,517.5 833.5,515.8 841.3,514.5 849.4,513.8 857.3,513.3 865.4,513.8 873.3,514.3 881.4,515.8 889.3,517.0 897.4,519.5 905.3,520.7 913.4,523.1 921.3,525.4 929.4,526.6 937.3,529.8 945.4,532.7 953.3,534.0 961.4,536.4 969.2,537.9 977.4,539.6 985.2,541.4 993.4,543.3 1001.2,544.6 1009.3,545.3 1017.2,545.3 1025.3,544.6 1033.2,544.6 1041.3,543.3 1049.2,544.6 1057.3,544.6 1065.2,544.6 1073.3,545.3 1081.2,546.3 1089.3,548.2 1097.2,551.2 1105.3,553.2 1113.2,554.4 1121.3,555.6 1129.2,556.9 1137.3,559.8 1145.1,561.0 1153.3,563.0 1161.1,564.2 1169.2,566.0 1177.1,567.2 1185.2,569.2 1193.1,572.3 1201.6,576.8 1209.4,579.6 1217.6,581.5 1225.4,583.6 1233.5,584.1 1241.4,584.1 1249.5,581.5 1257.4,576.8 1265.5,572.3 1273.4,567.1 1281.5,560.0 1289.3,551.3 1297.5,543.5 1305.3,534.8 1313.4,527.8 1321.3,521.2 1329.4,516.0 1337.3,509.4 1345.4,503.7 1353.5,500.3" fill="none" stroke="#ff0000" stroke-width="1" stroke-dasharray="3 3"/>
<text x="1591" y="459.4" font-size="9.7" letter-spacing="-0.2" fill="#000" stroke="#000" stroke-width="0.22">343.69</text>
<text x="1591" y="512.4" font-size="9.7" letter-spacing="-0.2" fill="#000" stroke="#000" stroke-width="0.22">0.00</text>
<text x="1591" y="596.4" font-size="9.7" letter-spacing="-0.2" fill="#000" stroke="#000" stroke-width="0.22">-533.3</text>
<rect x="1588" y="509" width="2" height="1" fill="#000"/>
<text x="5" y="461.8" font-size="9.7" letter-spacing="-0.2" fill="#000" stroke="#000" stroke-width="0.22">MACD(12,26,9) 138.49 59.88</text>
<line x1="1" y1="633.5" x2="1587" y2="633.5" stroke="#c0c0c0" stroke-width="1" stroke-dasharray="3 3"/>
<line x1="1" y1="677.5" x2="1587" y2="677.5" stroke="#c0c0c0" stroke-width="1" stroke-dasharray="3 3"/>
<line x1="1" y1="729.5" x2="1587" y2="729.5" stroke="#c0c0c0" stroke-width="1" stroke-dasharray="3 3"/>
<polyline points="1.5,713.6 9.5,719.2 17.5,720.5 25.5,711.4 33.5,707.7 41.5,707.4 49.5,705.2 57.5,703.2 65.5,707.4 73.5,708.7 81.5,708.7 89.5,711.9 97.5,714.8 105.5,714.3 113.5,707.4 121.5,707.4 129.5,708.7 137.5,711.4 145.5,708.7 153.5,712.6 161.5,703.2 169.5,698.3 177.5,689.7 185.5,681.1 193.5,669.3 201.5,672.5 209.5,681.6 217.5,677.4 225.5,675.4 233.5,677.4 241.5,676.2 249.5,668.3 257.5,660.7 265.5,660.7 273.5,657.2 281.5,654.0 289.5,650.4 297.5,635.6 305.5,632.4 313.5,633.1 321.5,636.3 329.5,639.3 337.5,643.0 345.5,634.4 353.5,646.2 361.5,645.4 369.5,647.2 377.5,659.0 385.5,654.0 393.5,649.1 401.5,644.7 409.5,632.6 417.5,632.6 425.5,630.2 433.5,638.1 441.5,657.2 449.5,655.3 457.5,655.3 465.5,660.2 473.5,662.2 481.5,661.4 489.5,667.1 497.5,693.4 505.5,696.4 513.5,697.6 521.5,694.6 529.5,694.6 537.5,692.7 545.5,705.2 553.5,709.4 561.5,702.5 569.5,708.2 577.5,713.6 585.5,699.6 593.5,685.5 601.5,689.0 609.5,693.4 617.5,690.4 625.5,690.4 633.5,704.5 641.5,700.8 649.5,706.4 657.5,703.2 665.5,698.3 673.5,696.4 681.5,705.7 689.5,690.9 697.5,687.5 705.5,689.2 713.5,686.5 721.5,676.2 729.5,679.9 737.5,683.6 745.5,687.5 753.5,680.6 761.5,683.6 769.5,678.6 777.5,671.3 785.5,675.0 793.5,677.4 801.5,675.0 809.5,673.2 817.5,683.1 825.5,678.1 833.5,680.4 841.5,679.4 849.5,686.5 857.5,688.5 865.5,689.7 873.5,692.7 881.5,700.3 889.5,701.5 897.5,698.3 905.5,695.4 913.5,698.3 921.5,700.3 929.5,704.0 937.5,715.0 945.5,708.7 953.5,709.4 961.5,709.4 969.5,707.4 977.5,703.2 985.5,712.3 993.5,704.5 1001.5,699.6 1009.5,698.3 1017.5,692.2 1025.5,684.8 1033.5,705.7 1041.5,707.7 1049.5,710.6 1057.5,712.6 1065.5,700.8 1073.5,705.7 1081.5,713.6 1089.5,708.7 1097.5,708.7 1105.5,707.4 1113.5,709.4 1121.5,702.7 1129.5,713.8 1137.5,718.5 1145.5,716.3 1153.5,710.6 1161.5,710.1 1169.5,711.9 1177.5,718.7 1185.5,726.6 1193.5,725.4 1201.5,726.0 1209.5,722.1 1217.5,714.7 1225.5,716.3 1233.5,680.9 1241.5,670.5 1249.5,670.5 1257.5,673.6 1265.5,680.1 1273.5,683.6 1281.5,680.1 1289.5,664.4 1297.5,661.3 1305.5,664.4 1313.5,660.0 1321.5,668.4 1329.5,661.3 1337.5,671.5 1345.5,668.4 1353.5,666.3" fill="none" stroke="#1e90ff" stroke-width="1"/>
<text x="1590.4" y="613.0" font-size="9.7" letter-spacing="-0.2" fill="#000" stroke="#000" stroke-width="0.22">100</text>
<text x="1590.4" y="636.5" font-size="9.7" letter-spacing="-0.2" fill="#000" stroke="#000" stroke-width="0.22">80</text>
<text x="1590.4" y="680.5" font-size="9.7" letter-spacing="-0.2" fill="#000" stroke="#000" stroke-width="0.22">50</text>
<text x="1590.4" y="733.0" font-size="9.7" letter-spacing="-0.2" fill="#000" stroke="#000" stroke-width="0.22">15</text>
<text x="1590.4" y="749.3" font-size="9.7" letter-spacing="-0.2" fill="#000" stroke="#000" stroke-width="0.22">0</text>
<text x="5" y="614.5" font-size="9.7" letter-spacing="-0.2" fill="#000" stroke="#000" stroke-width="0.22">RSI(14) 57.8777</text>
<rect x="1" y="753" width="1" height="3" fill="#000"/>
<text x="0.5" y="764.9" font-size="9.7" letter-spacing="-0.2" fill="#000" stroke="#000" stroke-width="0.22">20 Nov 2018</text>
<rect x="65" y="753" width="1" height="3" fill="#000"/>
<text x="64.5" y="764.9" font-size="9.7" letter-spacing="-0.2" fill="#000" stroke="#000" stroke-width="0.22">21 Nov 20:00</text>
<rect x="129" y="753" width="1" height="3" fill="#000"/>
<text x="128.5" y="764.9" font-size="9.7" letter-spacing="-0.2" fill="#000" stroke="#000" stroke-width="0.22">23 Nov 04:00</text>
<rect x="193" y="753" width="1" height="3" fill="#000"/>
<text x="192.5" y="764.9" font-size="9.7" letter-spacing="-0.2" fill="#000" stroke="#000" stroke-width="0.22">26 Nov 12:00</text>
<rect x="257" y="753" width="1" height="3" fill="#000"/>
<text x="256.5" y="764.9" font-size="9.7" letter-spacing="-0.2" fill="#000" stroke="#000" stroke-width="0.22">27 Nov 20:00</text>
<rect x="321" y="753" width="1" height="3" fill="#000"/>
<text x="320.5" y="764.9" font-size="9.7" letter-spacing="-0.2" fill="#000" stroke="#000" stroke-width="0.22">29 Nov 04:00</text>
<rect x="385" y="753" width="1" height="3" fill="#000"/>
<text x="384.5" y="764.9" font-size="9.7" letter-spacing="-0.2" fill="#000" stroke="#000" stroke-width="0.22">30 Nov 12:00</text>
<rect x="449" y="753" width="1" height="3" fill="#000"/>
<text x="448.5" y="764.9" font-size="9.7" letter-spacing="-0.2" fill="#000" stroke="#000" stroke-width="0.22">3 Dec 16:00</text>
<rect x="513" y="753" width="1" height="3" fill="#000"/>
<text x="512.5" y="764.9" font-size="9.7" letter-spacing="-0.2" fill="#000" stroke="#000" stroke-width="0.22">5 Dec 00:00</text>
<rect x="577" y="753" width="1" height="3" fill="#000"/>
<text x="576.5" y="764.9" font-size="9.7" letter-spacing="-0.2" fill="#000" stroke="#000" stroke-width="0.22">6 Dec 12:00</text>
<rect x="641" y="753" width="1" height="3" fill="#000"/>
<text x="640.5" y="764.9" font-size="9.7" letter-spacing="-0.2" fill="#000" stroke="#000" stroke-width="0.22">7 Dec 20:00</text>
<rect x="705" y="753" width="1" height="3" fill="#000"/>
<text x="704.5" y="764.9" font-size="9.7" letter-spacing="-0.2" fill="#000" stroke="#000" stroke-width="0.22">11 Dec 00:00</text>
<rect x="769" y="753" width="1" height="3" fill="#000"/>
<text x="768.5" y="764.9" font-size="9.7" letter-spacing="-0.2" fill="#000" stroke="#000" stroke-width="0.22">12 Dec 08:00</text>
<rect x="833" y="753" width="1" height="3" fill="#000"/>
<text x="832.5" y="764.9" font-size="9.7" letter-spacing="-0.2" fill="#000" stroke="#000" stroke-width="0.22">13 Dec 16:00</text>
<rect x="897" y="753" width="1" height="3" fill="#000"/>
<text x="896.5" y="764.9" font-size="9.7" letter-spacing="-0.2" fill="#000" stroke="#000" stroke-width="0.22">16 Dec 23:00</text>
<rect x="961" y="753" width="1" height="3" fill="#000"/>
<text x="960.5" y="764.9" font-size="9.7" letter-spacing="-0.2" fill="#000" stroke="#000" stroke-width="0.22">18 Dec 04:00</text>
<rect x="1025" y="753" width="1" height="3" fill="#000"/>
<text x="1024.5" y="764.9" font-size="9.7" letter-spacing="-0.2" fill="#000" stroke="#000" stroke-width="0.22">19 Dec 12:00</text>
<rect x="1089" y="753" width="1" height="3" fill="#000"/>
<text x="1088.5" y="764.9" font-size="9.7" letter-spacing="-0.2" fill="#000" stroke="#000" stroke-width="0.22">20 Dec 20:00</text>
<rect x="1153" y="753" width="1" height="3" fill="#000"/>
<text x="1152.5" y="764.9" font-size="9.7" letter-spacing="-0.2" fill="#000" stroke="#000" stroke-width="0.22">24 Dec 00:00</text>
<rect x="1217" y="753" width="1" height="3" fill="#000"/>
<text x="1216.5" y="764.9" font-size="9.7" letter-spacing="-0.2" fill="#000" stroke="#000" stroke-width="0.22">26 Dec 08:00</text>
<rect x="1281" y="753" width="1" height="3" fill="#000"/>
<text x="1280.5" y="764.9" font-size="9.7" letter-spacing="-0.2" fill="#000" stroke="#000" stroke-width="0.22">27 Dec 16:00</text>
<rect x="1345" y="753" width="1" height="3" fill="#000"/>
<text x="1344.5" y="764.9" font-size="9.7" letter-spacing="-0.2" fill="#000" stroke="#000" stroke-width="0.22">30 Dec 23:00</text>
<polygon points="4,38 11,38 7.5,34" fill="#000"/>
<text x="16.3" y="39" font-size="9.7" letter-spacing="-0.24" fill="#000" stroke="#000" stroke-width="0.22">DJ30-,H4&#160;&#160;23172.0 23250.0 23159.0 23236.0</text></svg>
<div id="tb"><div class="l1"></div><div class="l2"></div><div class="l3"></div>
<div class="cn" style="left:0px;top:3px">单</div>
<svg style="left:24px;top:4px" width="18" height="16" viewBox="0 0 18 16"><defs><linearGradient id="gb" x1="0.2" y1="0" x2="0.7" y2="1"><stop offset="0" stop-color="#fff2a8"/><stop offset="0.45" stop-color="#ecc028"/><stop offset="1" stop-color="#b87a0c"/></linearGradient></defs>
<path d="M1.1 10.2 L8.9 15.6 L16.4 9.6 L16.3 8.2 L8.9 14.2 L1.1 8.9 Z" fill="#a9741a"/>
<path d="M1.6 9.9 L8.9 14.9 L15.9 9.2" fill="none" stroke="#f3dfa0" stroke-width="0.5"/>
<path d="M6.2 0.4 Q7.6 -0.2 8 1 L16.3 8.2 L8.9 14.2 L1.1 8.9 Z" fill="url(#gb)" stroke="#9c6a10" stroke-width="0.7"/></svg>
<svg style="left:52px;top:2px" width="18" height="18" viewBox="0 0 18 18"><defs><linearGradient id="gc" x1="0" y1="0" x2="0" y2="1"><stop offset="0" stop-color="#ffffff"/><stop offset="1" stop-color="#c3d2ea"/></linearGradient></defs>
<polygon points="3.2,2.6 6.6,1 6.6,10 3.2,9" fill="#55c0ff" stroke="#2a86e0" stroke-width="0.5"/>
<polygon points="6.6,1 14.8,2 14.8,10 6.6,10" fill="#1878ea" stroke="#1560c0" stroke-width="0.5"/>
<path d="M8 4.6 L13.6 3.9 M8 6.6 L13.6 6.2" stroke="#d8ecff" stroke-width="0.9"/>
<path d="M4 16.7 a2.9 2.9 0 0 1 0.2 -5.6 a3.4 3.4 0 0 1 6.2 -1.2 a2.9 2.9 0 0 1 4.1 2 a2.4 2.4 0 0 1 -0.4 4.8 z" fill="url(#gc)" stroke="#5674a6" stroke-width="0.9"/></svg>
<svg style="left:80px;top:2px" width="18" height="18" viewBox="0 0 18 18"><defs><linearGradient id="gs" x1="0" y1="0" x2="0" y2="1"><stop offset="0" stop-color="#cfd8cf" stop-opacity="0.5"/><stop offset="1" stop-color="#3cae3c" stop-opacity="0.85"/></linearGradient></defs>
<circle cx="9" cy="8.8" r="7.5" fill="none" stroke="#a9b9df" stroke-width="1.1"/><circle cx="9" cy="8.8" r="4.9" fill="none" stroke="#7b98da" stroke-width="1.1"/>
<path d="M9 8.8 L12.8 2.3 A7.5 7.5 0 0 1 9 16.3 Z" fill="url(#gs)"/>
<circle cx="9" cy="8.8" r="2" fill="#1f5ccc"/><path d="M9.3 9 V16.6" stroke="#2aa82a" stroke-width="1.3"/></svg>
<svg style="left:107px;top:2px" width="18" height="18" viewBox="0 0 18 18"><defs><linearGradient id="gf" x1="0" y1="0" x2="1" y2="1"><stop offset="0" stop-color="#fff088"/><stop offset="1" stop-color="#e4a818"/></linearGradient></defs>
<path d="M1.8 7.2 L16.4 7.2 L11.6 14 L9 16.6 L6.4 14 Z" fill="url(#gf)" stroke="#c99a20" stroke-width="0.6"/>
<ellipse cx="9" cy="5.9" rx="8" ry="2.3" fill="#5aa2de"/><path d="M5 5.2 Q5.4 1 9 1 Q12.6 1 13 5.2 Q9 6.6 5 5.2 Z" fill="#79b8ea" stroke="#4a8cd0" stroke-width="0.5"/>
<circle cx="13.5" cy="12.5" r="4" fill="#dc2414"/><circle cx="13.5" cy="12.5" r="3.2" fill="#f03a24"/><rect x="11.9" y="10.9" width="3.2" height="3.2" fill="#fff"/></svg>
<div class="cn" style="left:129.5px;top:3px;letter-spacing:-0.45px">自动交易</div>
<div class="sep" style="left:184px;height:23px"></div>
<div class="grip" style="left:188px"></div>
<svg style="left:200px;top:5px" width="14" height="15" viewBox="0 0 14 15"><path d="M2.5 0.5 V14 M0 11.5 H13.5" stroke="#505050" stroke-width="1" fill="none"/><path d="M1 2.6 L2.5 0.6 L4 2.6 M11.4 10 L13.4 11.5 L11.4 13" stroke="#505050" stroke-width="1" fill="none"/><path d="M8.9 1.4 V9.6 M6.2 8.6 H8.9 M8.9 2.2 H11" stroke="#1a8a28" stroke-width="1.2" fill="none"/></svg>
<div class="sep" style="left:222px;height:21px"></div>
<div class="act" style="left:223px;width:24px"></div>
<svg style="left:228px;top:5px" width="14" height="15" viewBox="0 0 14 15"><path d="M2.5 0.5 V14 M0 11.5 H13.5" stroke="#505050" stroke-width="1" fill="none"/><path d="M1 2.6 L2.5 0.6 L4 2.6 M11.4 10 L13.4 11.5 L11.4 13" stroke="#505050" stroke-width="1" fill="none"/><path d="M8.6 -2 V9.6" stroke="#128a1e" stroke-width="1"/><rect x="6.6" y="1" width="4" height="6.8" fill="#4fdc58" stroke="#128a1e" stroke-width="0.9"/></svg>
<svg style="left:256px;top:5px" width="14" height="15" viewBox="0 0 14 15"><path d="M2.5 0.5 V14 M0 11.5 H13.5" stroke="#505050" stroke-width="1" fill="none"/><path d="M1 2.6 L2.5 0.6 L4 2.6 M11.4 10 L13.4 11.5 L11.4 13" stroke="#505050" stroke-width="1" fill="none"/><path d="M1.2 8.6 Q4.6 3 7 3.1 Q9 3.2 12.8 7.4" stroke="#1f8a2c" stroke-width="1.1" fill="none"/></svg>
<div class="sep" style="left:279px;height:21px"></div>
<svg style="left:288px;top:3px" width="16" height="16" viewBox="0 0 16 16"><path d="M10 10 L15 15" stroke="#c8a020" stroke-width="2.6" stroke-linecap="round"/><circle cx="6.2" cy="6.2" r="5.2" fill="#d9ecfb" stroke="#3b7ad8" stroke-width="1.3"/><path d="M3.6 6.2 H8.8 M6.2 3.6 V8.8" stroke="#2a63c8" stroke-width="1.6"/></svg>
<svg style="left:316px;top:3px" width="16" height="16" viewBox="0 0 16 16"><path d="M10 10 L15 15" stroke="#c8a020" stroke-width="2.6" stroke-linecap="round"/><circle cx="6.2" cy="6.2" r="5.2" fill="#d9ecfb" stroke="#3b7ad8" stroke-width="1.3"/><path d="M3.6 6.2 H8.8" stroke="#2a63c8" stroke-width="1.6"/></svg>
<svg style="left:344px;top:3px" width="16" height="16" viewBox="0 0 16 16"><rect x="0" y="0" width="7.8" height="7.8" fill="#38a028"/><rect x="8.2" y="0" width="7.8" height="7.8" fill="#2858cc"/><rect x="0" y="8.2" width="7.8" height="7.8" fill="#2858cc"/><rect x="8.2" y="8.2" width="7.8" height="7.8" fill="#38a028"/><rect x="1.2" y="3" width="5.4" height="4" fill="#fff"/><rect x="9.4" y="3" width="5.4" height="4" fill="#fff"/><rect x="1.2" y="11.2" width="5.4" height="4" fill="#fff"/><rect x="9.4" y="11.2" width="5.4" height="4" fill="#fff"/><path d="M2.2 4.6 H5.6 M2.2 12.8 H5.6" stroke="#a8d8a0" stroke-width="0.9"/><path d="M10.4 4.6 H13.8 M10.4 12.8 H13.8" stroke="#a8c0f0" stroke-width="0.9"/><rect x="0.9" y="1" width="1.2" height="1" fill="#e8f4e8"/><rect x="9.1" y="1" width="1.2" height="1" fill="#e8ecfc"/><rect x="0.9" y="9.2" width="1.2" height="1" fill="#e8ecfc"/><rect x="9.1" y="9.2" width="1.2" height="1" fill="#e8f4e8"/></svg>
<div class="sep" style="left:369px;height:21px"></div>
<div class="sep" style="left:374px;height:21px"></div>
<div class="act" style="left:375px;width:24px"></div>
<svg style="left:380px;top:5px" width="14" height="15" viewBox="0 0 14 15"><path d="M2.5 0.5 V14 M0 11.5 H13.5" stroke="#505050" stroke-width="1" fill="none"/><path d="M1 2.6 L2.5 0.6 L4 2.6 M11.4 10 L13.4 11.5 L11.4 13" stroke="#505050" stroke-width="1" fill="none"/><polygon points="7,2.2 10.9,5.5 7,8.8" fill="#52d85c" stroke="#149a22" stroke-width="0.9"/></svg>
<div class="sep" style="left:402px;height:21px"></div>
<div class="act" style="left:403px;width:24px"></div>
<svg style="left:408px;top:5px" width="14" height="15" viewBox="0 0 14 15"><path d="M2.5 0.5 V14 M0 11.5 H13.5" stroke="#505050" stroke-width="1" fill="none"/><path d="M1 2.6 L2.5 0.6 L4 2.6 M11.4 10 L13.4 11.5 L11.4 13" stroke="#505050" stroke-width="1" fill="none"/><path d="M8.5 0 V9.6" stroke="#2060b0" stroke-width="1.1"/><path d="M13.5 5.5 H10 M12 3.8 L9.8 5.5 L12 7.2" stroke="#d04a10" stroke-width="1.2" fill="none"/></svg>
<div class="sep" style="left:431px;height:21px"></div>
<svg style="left:441px;top:3px" width="17" height="18" viewBox="0 0 17 18"><path d="M0.8 0.6 H8 L11.4 4 V13.4 H0.8 Z" fill="#fdfdfd" stroke="#7c7c7c" stroke-width="0.9"/><path d="M8 0.6 V4 H11.4" fill="none" stroke="#9a9a9a" stroke-width="0.7"/><path d="M5 3.4 Q3.4 3.4 3.4 5 V9.6 M2.4 6.6 H4.8" stroke="#6a5a4a" stroke-width="0.8" fill="none"/><path d="M10.1 6.1 V17.7 M4.3 11.9 H15.9" stroke="#0a8a14" stroke-width="4.6"/><path d="M10.1 6.9 V16.9 M5.1 11.9 H15.1" stroke="#30d83c" stroke-width="3"/></svg>
<svg style="left:463px;top:10px" width="6" height="3" viewBox="0 0 6 3"><polygon points="0,0 6,0 3,3" fill="#000"/></svg>
<svg style="left:479px;top:3px" width="17" height="17" viewBox="0 0 17 17"><defs><linearGradient id="gk" x1="0" y1="0" x2="0" y2="1"><stop offset="0" stop-color="#3a8ae8"/><stop offset="1" stop-color="#1448a8"/></linearGradient></defs><circle cx="8.3" cy="7.9" r="7.8" fill="url(#gk)"/><circle cx="8.3" cy="7.9" r="5.3" fill="#f8faff"/><path d="M8.3 3.4 V4.4 M8.3 11.4 V12.4 M3.8 7.9 H4.8 M11.8 7.9 H12.8" stroke="#a0a8b8" stroke-width="0.8"/><path d="M7.6 4.6 L8.3 8.1 L11 8.6" stroke="#404040" stroke-width="1.1" fill="none"/></svg>
<svg style="left:502px;top:10px" width="6" height="3" viewBox="0 0 6 3"><polygon points="0,0 6,0 3,3" fill="#000"/></svg>
<svg style="left:518px;top:4px" width="16" height="14" viewBox="0 0 16 14"><rect x="0.5" y="0.5" width="15" height="13" fill="#f4f8ff" stroke="#3f78d0" stroke-width="1"/><rect x="0.5" y="0.5" width="15" height="2.5" fill="#3f78d0"/><path d="M2 6.5 L5 5.5 L7 6.5 L10 5 L13.5 4.5" stroke="#c03a2a" stroke-width="1.1" fill="none"/><path d="M2 11.5 L5 10 L7 11.5 L10 9.5 L13.5 11.5" stroke="#2a9a2a" stroke-width="1.1" fill="none"/></svg>
<svg style="left:541px;top:10px" width="6" height="3" viewBox="0 0 6 3"><polygon points="0,0 6,0 3,3" fill="#000"/></svg>
<div class="sep" style="left:552px;height:23px"></div>
<div class="grip" style="left:556px"></div>
<div class="sep" style="left:562px;height:21px"></div>
<div class="act" style="left:563px;width:24px"></div>
<svg style="left:569px;top:3px" width="10" height="16" viewBox="0 0 10 16"><polygon points="0.8,0.8 0.8,12.2 3.6,9.6 5.8,14.8 7.8,13.9 5.6,8.8 9.2,8.8" fill="#404040"/></svg>
<svg style="left:594px;top:3px" width="17" height="17" viewBox="0 0 17 17"><path d="M8.5 0.5 V16 M0.8 8.5 H16.2" stroke="#505050" stroke-width="1"/><rect x="7.5" y="7.5" width="2" height="2" fill="#f0f0f0"/></svg>
<div class="sep" style="left:619px;height:21px"></div>
<svg style="left:630px;top:4px" width="12" height="15" viewBox="0 0 12 15"><path d="M6.5 1 V14" stroke="#5c5c5c" stroke-width="1"/></svg>
<svg style="left:658px;top:4px" width="14" height="15" viewBox="0 0 14 15"><path d="M0.8 7.5 H13" stroke="#5c5c5c" stroke-width="1"/></svg>
<svg style="left:686px;top:4px" width="14" height="15" viewBox="0 0 14 15"><path d="M0.5 14 L13.4 1.5" stroke="#5c5c5c" stroke-width="1" shape-rendering="geometricPrecision"/></svg>
<svg style="left:712px;top:3px" width="18" height="18" viewBox="0 0 18 18"><g shape-rendering="geometricPrecision" stroke="#484848" stroke-width="1" fill="none"><path d="M1.2 10 L15 3.2 M2.5 13.5 L15.5 7 M3 14.5 L7.5 4.5 M6.5 13 L11.5 2 M10 11 L14.5 0.5"/></g><text x="12" y="16.8" font-size="6.6" font-weight="bold" fill="#404040" font-family="Liberation Sans,sans-serif">E</text></svg>
<svg style="left:741px;top:4px" width="16" height="17" viewBox="0 0 16 17"><g stroke="#505050" stroke-width="1" stroke-dasharray="1 1" shape-rendering="crispEdges"><path d="M1 0.5 H14 M1 3.5 H14 M1 7.5 H14 M1 11.5 H10"/></g><text x="10" y="16" font-size="7" font-weight="bold" fill="#404040" font-family="Liberation Sans,sans-serif">F</text></svg>
<div style="position:absolute;left:772.6px;top:5.4px;font-size:12.4px;font-weight:bold;color:#505050;line-height:14px;transform:scaleX(0.9);transform-origin:0 0">A</div>
<svg style="left:798px;top:4px" width="14" height="15" viewBox="0 0 14 15"><rect x="1.5" y="1.5" width="11" height="12" fill="none" stroke="#505050" stroke-width="1" stroke-dasharray="1 1" shape-rendering="crispEdges"/><path d="M3.4 4.4 H10.6" stroke="#505050" stroke-width="1.4"/><path d="M7 4.4 V11.4" stroke="#505050" stroke-width="1.9"/></svg>
<svg style="left:826px;top:4px" width="15" height="15" viewBox="0 0 15 15"><polygon points="3.5,0.5 6.5,3.5 3.5,6.5 0.5,3.5" fill="#404040"/><polygon points="10.5,7.5 13.8,10.8 10.5,14 7.2,10.8" fill="#404040"/><path d="M3 9 L5.5 11.5 L9.5 5.5" stroke="#404040" stroke-width="1.4" fill="none" shape-rendering="geometricPrecision"/></svg>
<svg style="left:847px;top:10px" width="6" height="3" viewBox="0 0 6 3"><polygon points="0,0 6,0 3,3" fill="#000"/></svg>
<div class="sep" style="left:858px;height:23px"></div>
<div class="grip" style="left:862px"></div>
<div class="tf" style="left:873.6px">M1</div>
<div class="tf" style="left:901.4px">M5</div>
<div class="tf" style="left:927.8px">M15</div>
<div class="tf" style="left:955.6px">M30</div>
<div class="tf" style="left:986.7px">H1</div>
<div class="sep" style="left:1008px;height:21px"></div>
<div class="act" style="left:1009px;width:25px"></div>
<div class="tf" style="left:1013.4px">H4</div>
<div class="tf" style="left:1042.3px">D1</div>
<div class="tf" style="left:1069.8px">W1</div>
<div class="tf" style="left:1096.5px">MN</div>
<div class="sep" style="left:1119px;height:23px"></div>
<svg style="left:1580px;top:2px" width="14" height="16" viewBox="0 0 14 16"><g shape-rendering="geometricPrecision"><path d="M2.6 13.3 L5.8 9.8" stroke="#2358c8" stroke-width="2.2" stroke-linecap="round"/><circle cx="9.5" cy="6.4" r="3.9" fill="#eef0ff" stroke="#2a62d0" stroke-width="1.3"/></g></svg>
<svg style="left:1606px;top:0px" width="20" height="20" viewBox="0 0 20 20"><g shape-rendering="geometricPrecision"><ellipse cx="15.6" cy="7.8" rx="6.4" ry="4.6" fill="#f6f6f8" stroke="#9a9a9a" stroke-width="0.9"/><path d="M5 15 L4.3 17.6 L7.6 15.4" fill="#f6f6f8" stroke="#808080" stroke-width="0.9"/><ellipse cx="7.2" cy="12" rx="5" ry="3.7" fill="#f8f8fa" stroke="#909090" stroke-width="0.9"/></g></svg>
</div>
<div id="tp">
<div class="b" style="left:0;top:0;width:52px;height:24px"><div class="bt" style="left:12.5px;letter-spacing:-1px">SELL</div></div>
<div class="b" style="left:167px;top:0;width:52px;height:24px"><div class="bt" style="left:13.5px;letter-spacing:-0.6px">BUY</div></div>
<div class="p" style="left:0;top:24px;width:109px;height:40px"><span class="s" style="left:16.5px">23234</span><span class="d" style="left:55px">.</span><span class="g" style="left:62.5px">5</span></div>
<div class="p" style="left:111px;top:24px;width:108px;height:40px"><span class="s" style="left:15px">23243</span><span class="d" style="left:55px">.</span><span class="g" style="left:62.5px">5</span></div>
<div class="ul" style="left:4px;width:44px"></div><div class="ul" style="left:171px;width:44px"></div>
<div class="lot"><div class="sb" style="left:0"><svg width="5" height="3" viewBox="0 0 5 3" style="position:absolute;left:7px;top:8px"><polygon points="0,0 5,0 2.5,3" fill="#000"/></svg></div><div class="val">0.10</div><div class="sb" style="right:0"><svg width="5" height="3" viewBox="0 0 5 3" style="position:absolute;left:7.5px;top:7.8px"><polygon points="0,3 5,3 2.5,0" fill="#000"/></svg></div></div>
</div>

</div></body></html>
